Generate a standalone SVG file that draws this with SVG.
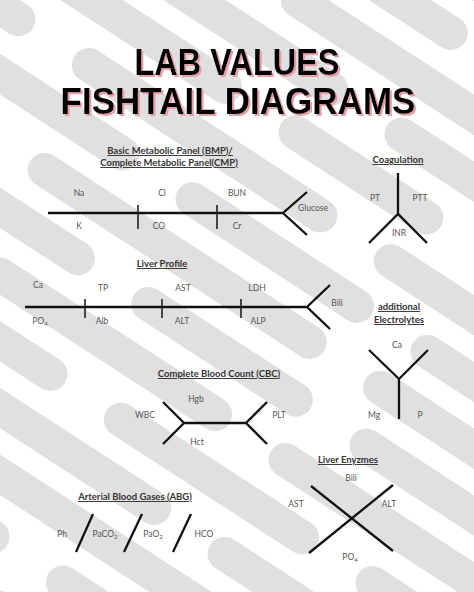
<svg xmlns="http://www.w3.org/2000/svg" width="474" height="592" viewBox="0 0 474 592">
<defs>
<filter id="pinkShadow" x="-10%" y="-20%" width="120%" height="150%">
<feDropShadow dx="2" dy="2" stdDeviation="0.4" flood-color="#e6a0a8" flood-opacity="1"/>
</filter>
</defs>
<style>
.bg{fill:#e0e0e0}
.ttl{font-family:"Liberation Sans",Arial,sans-serif;font-weight:bold;font-size:36px;text-anchor:middle;fill:#000;filter:url(#pinkShadow)}
.hd{font-family:Lato,"Liberation Sans",sans-serif;font-weight:bold;font-size:9.5px;fill:#333;text-anchor:middle;text-decoration:underline}
.lb{font-family:Lato,"Liberation Sans",sans-serif;font-size:8.5px;fill:#555;text-anchor:middle}
.sub{font-size:6px}
.ln{stroke:#111;stroke-width:2.3;fill:none;stroke-linecap:butt;stroke-linejoin:miter}
.tk{stroke:#222;stroke-width:1.6;fill:none}
</style>
<rect width="474" height="592" fill="#ffffff"/>
<g id="background" transform="rotate(33 237 296)">
<rect class="bg" x="-200" y="-170" width="260" height="34" rx="17"/>
<rect class="bg" x="110" y="-170" width="340" height="34" rx="17"/>
<rect class="bg" x="-120" y="-114" width="180" height="34" rx="17"/>
<rect class="bg" x="120" y="-114" width="420" height="34" rx="17"/>
<rect class="bg" x="-260" y="-58" width="300" height="34" rx="17"/>
<rect class="bg" x="90" y="-58" width="200" height="34" rx="17"/>
<rect class="bg" x="340" y="-58" width="300" height="34" rx="17"/>
<rect class="bg" x="-160" y="-2" width="220" height="34" rx="17"/>
<rect class="bg" x="110" y="-2" width="370" height="34" rx="17"/>
<rect class="bg" x="-240" y="54" width="150" height="34" rx="17"/>
<rect class="bg" x="-40" y="54" width="260" height="34" rx="17"/>
<rect class="bg" x="270" y="54" width="350" height="34" rx="17"/>
<rect class="bg" x="-200" y="110" width="330" height="34" rx="17"/>
<rect class="bg" x="180" y="110" width="190" height="34" rx="17"/>
<rect class="bg" x="420" y="110" width="260" height="34" rx="17"/>
<rect class="bg" x="-280" y="166" width="200" height="34" rx="17"/>
<rect class="bg" x="-30" y="166" width="310" height="34" rx="17"/>
<rect class="bg" x="330" y="166" width="300" height="34" rx="17"/>
<rect class="bg" x="-180" y="222" width="260" height="34" rx="17"/>
<rect class="bg" x="130" y="222" width="230" height="34" rx="17"/>
<rect class="bg" x="410" y="222" width="260" height="34" rx="17"/>
<rect class="bg" x="-240" y="278" width="180" height="34" rx="17"/>
<rect class="bg" x="-10" y="278" width="350" height="34" rx="17"/>
<rect class="bg" x="390" y="278" width="280" height="34" rx="17"/>
<rect class="bg" x="-200" y="334" width="300" height="34" rx="17"/>
<rect class="bg" x="150" y="334" width="210" height="34" rx="17"/>
<rect class="bg" x="410" y="334" width="270" height="34" rx="17"/>
<rect class="bg" x="-260" y="390" width="220" height="34" rx="17"/>
<rect class="bg" x="10" y="390" width="290" height="34" rx="17"/>
<rect class="bg" x="350" y="390" width="330" height="34" rx="17"/>
<rect class="bg" x="-180" y="446" width="320" height="34" rx="17"/>
<rect class="bg" x="190" y="446" width="250" height="34" rx="17"/>
<rect class="bg" x="490" y="446" width="210" height="34" rx="17"/>
<rect class="bg" x="-240" y="502" width="180" height="34" rx="17"/>
<rect class="bg" x="-10" y="502" width="310" height="34" rx="17"/>
<rect class="bg" x="350" y="502" width="330" height="34" rx="17"/>
<rect class="bg" x="-200" y="558" width="260" height="34" rx="17"/>
<rect class="bg" x="110" y="558" width="350" height="34" rx="17"/>
<rect class="bg" x="-120" y="614" width="300" height="34" rx="17"/>
<rect class="bg" x="230" y="614" width="330" height="34" rx="17"/>
<rect class="bg" x="-200" y="670" width="340" height="34" rx="17"/>
<rect class="bg" x="190" y="670" width="370" height="34" rx="17"/>
<rect class="bg" x="-100" y="726" width="300" height="34" rx="17"/>
<rect class="bg" x="250" y="726" width="330" height="34" rx="17"/>
</g>
<g id="title">
<text class="ttl" x="237" y="75" textLength="205" lengthAdjust="spacingAndGlyphs">LAB VALUES</text>
<text class="ttl" x="238" y="114" textLength="355" lengthAdjust="spacingAndGlyphs">FISHTAIL DIAGRAMS</text>
</g>
<g id="bmp">
<text class="hd" x="170" y="154">Basic Metabolic Panel (BMP)/</text>
<text class="hd" x="169" y="166">Complete  Metabolic Panel(CMP)</text>
<text class="lb" x="79" y="196">Na</text>
<text class="lb" x="162" y="196">Cl</text>
<text class="lb" x="237" y="196">BUN</text>
<text class="lb" x="79" y="229">K</text>
<text class="lb" x="159" y="229">CO</text>
<text class="lb" x="237" y="229">Cr</text>
<text class="lb" x="313" y="211">Glucose</text>
</g>
<g id="coagulation">
<text class="hd" x="398" y="163">Coagulation</text>
<text class="lb" x="375" y="201">PT</text>
<text class="lb" x="420" y="201">PTT</text>
<text class="lb" x="399" y="236">INR</text>
</g>
<g id="liver-profile">
<text class="hd" x="162" y="267">Liver Profile</text>
<text class="lb" x="38" y="288">Ca</text>
<text class="lb" x="103" y="291">TP</text>
<text class="lb" x="183" y="291">AST</text>
<text class="lb" x="257" y="291">LDH</text>
<text class="lb" x="337" y="306">Bili</text>
<text class="lb" x="40" y="324">PO<tspan class="sub" dy="2">4</tspan></text>
<text class="lb" x="102" y="324">Alb</text>
<text class="lb" x="182" y="324">ALT</text>
<text class="lb" x="258" y="324">ALP</text>
</g>
<g id="electrolytes">
<text class="hd" x="399" y="310">additional</text>
<text class="hd" x="399" y="323">Electrolytes</text>
<text class="lb" x="397" y="348">Ca</text>
<text class="lb" x="374" y="418">Mg</text>
<text class="lb" x="420" y="418">P</text>
</g>
<g id="cbc">
<text class="hd" x="219" y="377">Complete Blood Count (CBC)</text>
<text class="lb" x="196" y="402">Hgb</text>
<text class="lb" x="145" y="418">WBC</text>
<text class="lb" x="279" y="418">PLT</text>
<text class="lb" x="197" y="445">Hct</text>
</g>
<g id="abg">
<text class="hd" x="135" y="500">Arterial Blood Gases (ABG)</text>
<text class="lb" x="62" y="537">Ph</text>
<text class="lb" x="105" y="537">PaCO<tspan class="sub" dy="2">2</tspan></text>
<text class="lb" x="153" y="537">PaO<tspan class="sub" dy="2">2</tspan></text>
<text class="lb" x="204" y="537">HCO</text>
</g>
<g id="liver-enzymes">
<text class="hd" x="348" y="463">Liver Enyzmes</text>
<text class="lb" x="351" y="481">Bili</text>
<text class="lb" x="296" y="507">AST</text>
<text class="lb" x="389" y="507">ALT</text>
<text class="lb" x="350" y="560">PO<tspan class="sub" dy="2">4</tspan></text>
</g>
<g id="connectors">
<path class="ln" d="M48 213H283M307 192L283 213L307 235"/>
<path class="tk" d="M138 205V229M217 205V229"/>
<path class="ln" d="M398 173V214M369 243L398 214L427 243"/>
<path class="ln" d="M25 307H307M330 285L307 307L330 329"/>
<path class="tk" d="M85 299V318M162 299V318M241 299V318"/>
<path class="ln" d="M369 350L399 379L428 350M399 379V419"/>
<path class="ln" d="M163 402L184 423L163 444M184 423H246M267 402L246 423L267 444"/>
<path class="ln" d="M93 514L76 552M142 514L124 552M191 514L173 552"/>
<path class="ln" d="M311 486L393 551M393 485L309 553"/>
</g>
</svg>
